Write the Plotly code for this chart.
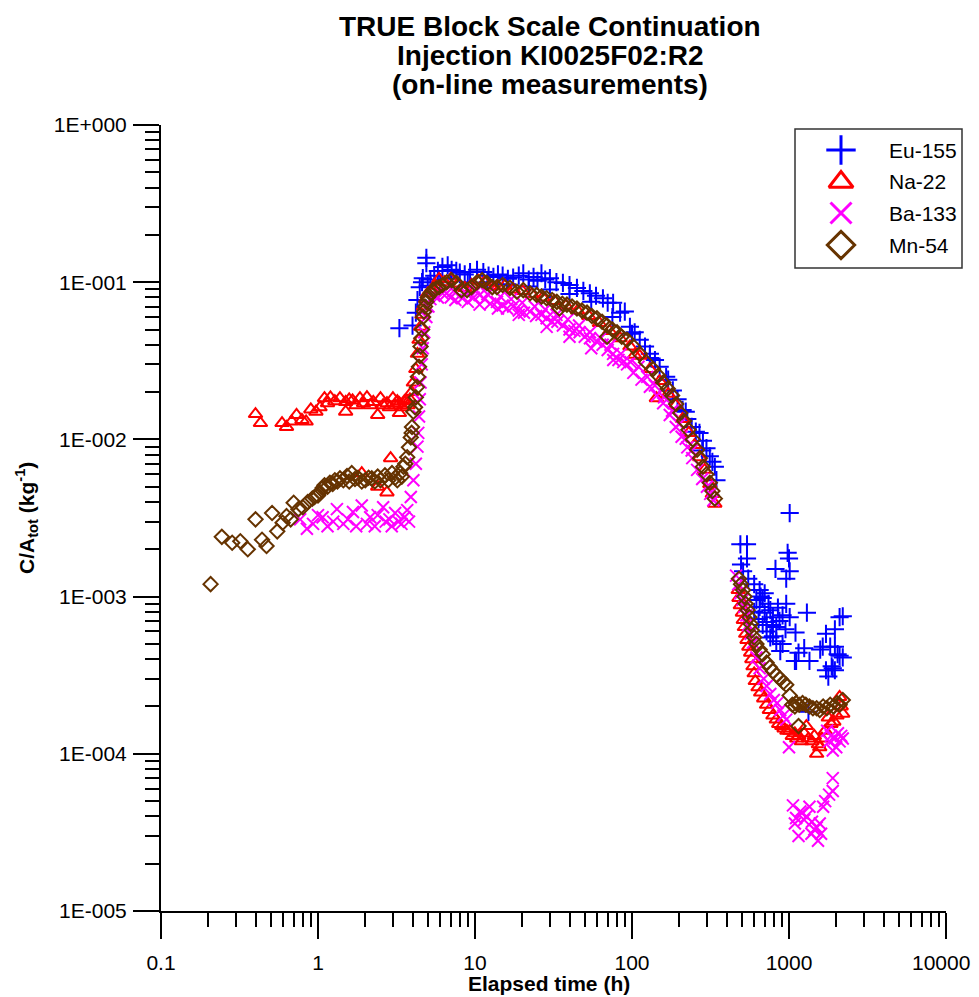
import plotly.graph_objects as go

# Eu-155 (t in h, C/Atot in kg-1)
eu_main = [(3.3, 0.051), (4.0, 0.053), (4.2, 0.064), (4.3, 0.077), (4.45, 0.093), (4.6, 0.1),
           (4.65, 0.106), (4.9, 0.143), (4.9, 0.132), (5.0, 0.095), (5.2, 0.104), (5.5, 0.11),
           (5.8, 0.118), (6.0, 0.1), (6.2, 0.125), (6.7, 0.128), (7.0, 0.105), (7.1, 0.12),
           (7.6, 0.118), (8.0, 0.115), (8.6, 0.112), (9.0, 0.1), (9.3, 0.116), (10.3, 0.12),
           (11.3, 0.116), (12.0, 0.1), (12.2, 0.11), (13.1, 0.108), (14.0, 0.112), (15.0, 0.11),
           (16.0, 0.097), (16.2, 0.105), (17.5, 0.107), (19.0, 0.11), (20.3, 0.114), (22.0, 0.104),
           (22.0, 0.094), (23.6, 0.108), (25.0, 0.102), (26.5, 0.114), (28.0, 0.104), (30.0, 0.106),
           (30.0, 0.09), (33.0, 0.1), (36.3, 0.099), (40.0, 0.096), (40.0, 0.084), (44.6, 0.092),
           (49.0, 0.088), (53.9, 0.085), (55.0, 0.075), (59.0, 0.082), (65.3, 0.079), (70.0, 0.074),
           (75.0, 0.06), (75.8, 0.074), (84.0, 0.064), (90.0, 0.065), (97.0, 0.052), (100.0, 0.047),
           (104.0, 0.048), (112.0, 0.043), (121.0, 0.039), (130.0, 0.035), (130.0, 0.033),
           (140.0, 0.032), (150.0, 0.029), (165.0, 0.025), (170.0, 0.024), (182.0, 0.0205),
           (195.0, 0.018), (210.0, 0.0154), (220.0, 0.015), (225.0, 0.0135), (240.0, 0.012),
           (255.0, 0.0112), (269.0, 0.011), (280.0, 0.0085), (283.0, 0.0098), (298.0, 0.0088),
           (313.0, 0.0078), (325.0, 0.0072), (337.0, 0.0067), (345.0, 0.0055)]
eu_tail = [(490, 2.15e-3), (540, 2.15e-3), (540, 1.75e-3), (495, 1.6e-3), (510, 1.45e-3),
           (550, 1.3e-3), (1010, 3.4e-3), (980, 1.9e-3), (1000, 1.75e-3), (820, 1.5e-3),
           (1010, 1.45e-3), (960, 1.3e-3), (650, 1.1e-3), (660, 1.0e-3), (740, 9.0e-4),
           (960, 9.0e-4), (1300, 7.9e-4), (2100, 7.4e-4), (650, 8.6e-4), (700, 7.9e-4),
           (790, 7.4e-4), (910, 7.6e-4), (1010, 7.4e-4), (720, 6.9e-4), (830, 6.4e-4),
           (950, 6.2e-4), (1100, 5.9e-4), (790, 5.6e-4), (910, 5.0e-4), (880, 4.5e-4),
           (1150, 4.4e-4), (1110, 3.9e-4), (1350, 3.9e-4), (1250, 4.7e-4), (1580, 4.6e-4),
           (1720, 5.8e-4), (1960, 6.2e-4), (1830, 4.8e-4), (1960, 4.8e-4), (2040, 4.3e-4),
           (2100, 4.2e-4), (1640, 4.8e-4), (1870, 3.6e-4), (1720, 3.4e-4), (1780, 3.1e-4),
           (1960, 3.4e-4), (2200, 7.5e-4), (2200, 4.1e-4), (600, 1.2e-3), (620, 9.5e-4),
           (680, 9.8e-4), (700, 1.05e-3), (760, 8.2e-4), (850, 8.5e-4), (600, 8.0e-4),
           (640, 7.2e-4), (680, 6.6e-4), (720, 6.0e-4), (760, 5.5e-4), (830, 5.2e-4),
           (870, 7.0e-4), (780, 6.6e-4), (1090, 3.9e-4), (1900, 3.5e-4), (1330, 1.85e-4)]

# Na-22
na_early = [(0.40, 1.45e-2), (0.43, 1.27e-2), (0.59, 1.27e-2), (0.63, 1.2e-2), (0.68, 1.3e-2),
            (0.73, 1.43e-2), (0.79, 1.33e-2), (0.84, 1.3e-2), (0.90, 1.55e-2), (0.97, 1.5e-2),
            (1.03, 1.6e-2), (1.1, 1.83e-2), (1.15, 1.7e-2), (1.2, 1.85e-2), (1.28, 1.75e-2),
            (1.38, 1.83e-2), (1.5, 1.73e-2), (1.5, 1.5e-2), (1.58, 1.8e-2), (1.66, 1.77e-2),
            (1.75, 1.65e-2), (1.85, 1.83e-2), (1.95, 1.7e-2), (2.05, 1.86e-2), (2.15, 1.65e-2),
            (2.25, 1.73e-2), (2.4, 1.43e-2), (2.5, 1.83e-2), (2.6, 1.65e-2), (2.75, 1.7e-2),
            (2.85, 1.6e-2), (3.0, 1.83e-2), (3.1, 1.65e-2), (3.2, 1.75e-2), (3.3, 1.7e-2),
            (3.3, 1.47e-2), (3.45, 1.6e-2), (3.55, 1.75e-2), (3.67, 1.77e-2), (3.75, 1.65e-2),
            (3.85, 1.8e-2), (1.9, 6.1e-3), (2.4, 5.0e-3), (2.75, 4.6e-3), (2.9, 7.6e-3)]
na_main = [(3.95, 2.0e-2), (4.05, 2.3e-2), (4.2, 2.8e-2), (4.3, 3.5e-2), (4.4, 4.3e-2),
           (4.5, 5.2e-2), (4.6, 6.2e-2), (4.7, 7.0e-2), (4.85, 7.8e-2), (5.0, 8.5e-2),
           (5.3, 9.0e-2), (5.6, 9.5e-2), (5.9, 0.105), (6.4, 0.1), (7.0, 0.105), (7.8, 0.098),
           (8.6, 0.092), (9.5, 0.096), (10.5, 0.102), (11.5, 0.1), (12.5, 0.095), (14.0, 0.094),
           (15.5, 0.095), (17.5, 0.09), (20.0, 0.088), (23.0, 0.084), (27.0, 0.08), (32.0, 0.076),
           (38.0, 0.071), (45.0, 0.066), (53.0, 0.061), (62.0, 0.055), (72.0, 0.049), (84.0, 0.044),
           (97.0, 0.039), (104.0, 0.0345), (112.0, 0.034), (130.0, 0.028), (143.0, 0.0183),
           (150.0, 0.0235), (170.0, 0.0195), (190.0, 0.0165), (210.0, 0.0135), (230.0, 0.011),
           (250.0, 0.0092), (270.0, 0.0077), (290.0, 0.0064), (313.0, 0.0052), (325.0, 0.0045),
           (337.0, 0.0039)]
na_tail = [(475, 1.1e-3), (480, 9.8e-4), (490, 8.8e-4), (505, 7.9e-4), (512, 7.1e-4), (520, 6.4e-4),
           (530, 5.8e-4), (540, 5.3e-4), (555, 4.8e-4), (570, 4.4e-4), (580, 4.0e-4), (590, 3.6e-4),
           (600, 3.25e-4), (610, 2.9e-4), (635, 2.65e-4), (660, 2.45e-4), (690, 2.25e-4),
           (720, 2.05e-4), (750, 1.9e-4), (790, 1.75e-4), (830, 1.65e-4), (860, 1.55e-4),
           (900, 1.5e-4), (930, 1.45e-4), (970, 1.4e-4), (1010, 1.4e-4), (1050, 1.3e-4),
           (1090, 1.35e-4), (1120, 1.25e-4), (1150, 1.3e-4), (1200, 1.2e-4), (1250, 1.35e-4),
           (1290, 1.5e-4), (1330, 1.25e-4), (1400, 1.2e-4), (1450, 1.3e-4), (1500, 1.0e-4),
           (1540, 1.15e-4), (1570, 1.1e-4), (1620, 1.25e-4), (1700, 1.4e-4), (1780, 1.7e-4),
           (1850, 1.55e-4), (1930, 1.6e-4), (2020, 1.75e-4), (2100, 2.3e-4), (2150, 2.0e-4),
           (2200, 1.8e-4)]

# Ba-133
ba_early = [(0.77, 3.1e-3), (0.85, 2.7e-3), (0.93, 2.9e-3), (1.0, 3.3e-3), (1.07, 3.2e-3),
            (1.15, 2.8e-3), (1.25, 3.0e-3), (1.32, 3.6e-3), (1.45, 2.9e-3), (1.55, 3.1e-3),
            (1.67, 3.45e-3), (1.75, 2.8e-3), (1.9, 3.8e-3), (2.05, 2.9e-3), (2.15, 3.2e-3),
            (2.3, 2.8e-3), (2.4, 3.3e-3), (2.6, 3.7e-3), (2.7, 3.0e-3), (2.85, 3.1e-3),
            (2.95, 2.8e-3), (3.1, 3.4e-3), (3.25, 3.0e-3), (3.4, 2.9e-3), (3.55, 3.2e-3),
            (3.7, 3.55e-3), (3.8, 3.0e-3)]
ba_main = [(3.9, 4.3e-3), (4.05, 5.5e-3), (4.2, 7.0e-3), (4.3, 9.0e-3), (4.35, 1.1e-2),
           (4.4, 1.4e-2), (4.45, 1.8e-2), (4.5, 2.3e-2), (4.58, 3.0e-2), (4.65, 3.8e-2),
           (4.75, 4.8e-2), (4.9, 6.0e-2), (5.05, 7.0e-2), (5.2, 7.8e-2), (5.5, 8.2e-2),
           (5.8, 8.0e-2), (6.2, 8.5e-2), (6.6, 0.085), (7.0, 0.08), (7.3, 0.088), (7.5, 0.077),
           (8.3, 0.079), (8.7, 0.086), (9.0, 0.075), (9.8, 0.08), (10.2, 0.088), (10.7, 0.083),
           (10.7, 0.072), (11.5, 0.078), (12.0, 0.084), (12.5, 0.073), (13.8, 0.075), (14.0, 0.068),
           (14.5, 0.081), (15.0, 0.071), (16.0, 0.068), (17.0, 0.078), (17.5, 0.07), (19.0, 0.066),
           (19.0, 0.062), (20.0, 0.074), (20.5, 0.064), (22.4, 0.065), (24.0, 0.07), (24.5, 0.061),
           (26.5, 0.062), (28.0, 0.067), (28.6, 0.059), (28.6, 0.052), (31.0, 0.056), (33.0, 0.062),
           (33.5, 0.056), (36.3, 0.053), (39.0, 0.058), (40.0, 0.050), (40.0, 0.045), (43.0, 0.049),
           (46.0, 0.053), (46.4, 0.048), (50.0, 0.045), (54.0, 0.048), (54.0, 0.044), (55.0, 0.038),
           (59.5, 0.042), (63.0, 0.044), (65.0, 0.040), (70.0, 0.037), (73.0, 0.04), (75.8, 0.035),
           (76.0, 0.032), (82.0, 0.032), (85.0, 0.035), (88.0, 0.031), (93.0, 0.030), (98.0, 0.031),
           (102.0, 0.0265), (110.0, 0.029), (115.0, 0.024), (125.0, 0.025), (130.0, 0.0216),
           (140.0, 0.022), (144.0, 0.019), (158.0, 0.017), (160.0, 0.0185), (174.0, 0.0143),
           (180.0, 0.0152), (190.0, 0.012), (200.0, 0.0125), (207.0, 0.0104), (220.0, 0.0101),
           (225.0, 0.0089), (240.0, 0.0085), (242.0, 0.0076), (260.0, 0.0064), (280.0, 0.0056),
           (300.0, 0.0050), (315.0, 0.0045), (330.0, 0.0041)]
ba_tail = [(460, 1.36e-3), (475, 1.2e-3), (490, 1.05e-3), (505, 9.5e-4), (520, 8.6e-4),
           (535, 7.6e-4), (550, 6.6e-4), (570, 5.8e-4), (590, 5.1e-4), (620, 4.1e-4), (650, 3.5e-4),
           (690, 3.0e-4), (720, 2.7e-4), (760, 2.4e-4), (800, 2.2e-4), (840, 2.1e-4), (880, 1.9e-4),
           (920, 1.75e-4), (960, 1.65e-4), (1000, 1.1e-4), (1750, 1.4e-4), (1800, 1.2e-4),
           (1850, 1.3e-4), (1900, 1.05e-4), (1950, 1.25e-4), (2000, 1.1e-4), (2050, 1.35e-4),
           (2100, 1.2e-4), (2150, 1.3e-4), (2200, 1.25e-4)]
ba_low = [(1060, 4.7e-5), (1090, 3.6e-5), (1110, 3.9e-5), (1150, 3.0e-5), (1180, 4.3e-5),
          (1210, 4.2e-5), (1250, 3.8e-5), (1290, 4.0e-5), (1350, 4.6e-5), (1390, 3.1e-5),
          (1400, 3.7e-5), (1450, 3.3e-5), (1500, 3.4e-5), (1530, 2.8e-5), (1570, 3.6e-5),
          (1600, 3.1e-5), (1650, 4.6e-5), (1700, 5.0e-5), (1800, 5.5e-5), (1900, 5.8e-5),
          (1900, 7.0e-5)]

# Mn-54
mn_early = [(0.207, 1.2e-3), (0.244, 2.4e-3), (0.284, 2.2e-3), (0.32, 2.25e-3), (0.357, 2.0e-3),
            (0.40, 3.1e-3), (0.44, 2.3e-3), (0.47, 2.1e-3), (0.51, 3.4e-3), (0.55, 2.6e-3),
            (0.595, 2.95e-3), (0.63, 3.25e-3), (0.67, 3.1e-3), (0.70, 3.95e-3), (0.75, 3.6e-3),
            (0.80, 3.7e-3), (0.86, 4.0e-3), (0.92, 4.2e-3), (0.95, 4.3e-3), (1.0, 4.4e-3),
            (1.03, 4.6e-3), (1.07, 4.9e-3), (1.1, 5.1e-3), (1.15, 5.0e-3), (1.19, 5.3e-3),
            (1.24, 5.2e-3), (1.28, 5.5e-3), (1.33, 5.4e-3), (1.38, 5.65e-3), (1.45, 5.5e-3),
            (1.53, 5.85e-3), (1.58, 5.4e-3), (1.64, 6.1e-3), (1.72, 5.6e-3), (1.8, 5.7e-3),
            (1.9, 5.4e-3), (2.0, 5.5e-3), (2.1, 5.7e-3), (2.2, 5.65e-3), (2.3, 5.4e-3),
            (2.4, 5.8e-3), (2.5, 5.5e-3), (2.67, 5.9e-3), (2.8, 5.5e-3), (2.96, 6.1e-3),
            (3.1, 5.7e-3), (3.2, 5.5e-3), (3.34, 6.1e-3), (3.42, 5.8e-3), (3.5, 6.7e-3),
            (3.6, 7.0e-3), (3.7, 7.7e-3), (3.8, 8.9e-3), (3.9, 1.03e-2), (3.95, 1.1e-2)]
mn_main = [(3.97, 1.2e-2), (4.05, 1.5e-2), (4.15, 1.6e-2), (4.2, 1.85e-2), (4.27, 2.15e-2),
           (4.33, 2.5e-2), (4.4, 2.9e-2), (4.45, 3.4e-2), (4.5, 3.9e-2), (4.55, 4.4e-2),
           (4.6, 5.0e-2), (4.67, 6.0e-2), (4.73, 6.5e-2), (4.8, 7.0e-2), (4.9, 7.5e-2),
           (5.0, 8.0e-2), (5.2, 8.5e-2), (5.4, 8.9e-2), (5.65, 9.1e-2), (5.9, 9.3e-2),
           (6.2, 9.6e-2), (6.6, 0.1), (7.1, 0.103), (7.6, 0.099), (8.2, 0.089), (8.9, 0.089),
           (9.5, 0.093), (10.3, 0.1), (11.1, 0.103), (11.9, 0.099), (12.9, 0.093), (13.8, 0.093),
           (15.0, 0.096), (16.7, 0.092), (18.5, 0.087), (20.3, 0.089), (22.4, 0.085), (24.7, 0.083),
           (26.5, 0.081), (28.6, 0.079), (31.0, 0.077), (33.2, 0.075), (34.5, 0.068), (36.0, 0.073),
           (38.5, 0.072), (41.5, 0.070), (44.6, 0.068), (48.0, 0.066), (51.7, 0.064), (55.5, 0.061),
           (59.8, 0.059), (64.5, 0.056), (69.3, 0.053), (69.4, 0.045), (75.0, 0.050), (80.3, 0.048),
           (86.0, 0.045), (93.0, 0.043), (102.0, 0.039), (112.0, 0.035), (123.0, 0.031),
           (136.0, 0.028), (147.0, 0.0255), (158.0, 0.023), (169.0, 0.021), (180.0, 0.019),
           (191.0, 0.0168), (203.0, 0.0147), (215.0, 0.0131), (229.0, 0.0115), (244.0, 0.0100),
           (260.0, 0.0086), (271.0, 0.0076), (283.0, 0.0067), (298.0, 0.0060), (313.0, 0.0053),
           (325.0, 0.0047), (337.0, 0.0042)]
mn_tail = [(480, 1.3e-3), (495, 1.2e-3), (510, 1.1e-3), (520, 1.0e-3), (530, 9.0e-4), (545, 8.2e-4),
           (560, 7.4e-4), (570, 6.7e-4), (580, 6.1e-4), (600, 5.5e-4), (620, 5.0e-4), (650, 4.6e-4),
           (680, 4.3e-4), (720, 3.8e-4), (755, 3.55e-4), (790, 3.35e-4), (835, 3.15e-4),
           (880, 3.0e-4), (920, 2.85e-4), (960, 2.75e-4), (1010, 2.35e-4), (1150, 1.5e-4),
           (1050, 2.05e-4), (1090, 2.0e-4), (1110, 2.1e-4), (1160, 2.05e-4), (1220, 2.1e-4),
           (1280, 2.05e-4), (1350, 2.0e-4), (1420, 1.95e-4), (1500, 1.95e-4), (1570, 1.9e-4),
           (1650, 2.0e-4), (1740, 1.95e-4), (1830, 2.05e-4), (1920, 2.0e-4), (2020, 2.1e-4),
           (2100, 2.05e-4), (2200, 2.2e-4)]

names = ["Eu-155", "Na-22", "Ba-133", "Mn-54"]
colors = ["#0000FF", "#FF0000", "#FF00FF", "#663300"]
symbols = ["cross-thin", "triangle-up-open", "x-thin", "diamond-open"]
data = [eu_main + eu_tail,
        na_early + na_main + na_tail,
        ba_early + ba_main + ba_tail + ba_low,
        mn_early + mn_main + mn_tail]
sizes = [13, 12, 12, 11]

FONT = "Arial, Liberation Sans, sans-serif"

# figure size / plot box (the page adds an 8px body margin)
W, H = 963, 989
L, T, PW, PH = 153, 117, 785, 786


def px(xp):
    return (xp - 161) / PW


def py(yp):
    return (911 - yp) / PH


fig = go.Figure()
for name, pts, sym, col, size in zip(names, data, symbols, colors, sizes):
    fig.add_trace(go.Scatter(
        x=[p[0] for p in pts], y=[p[1] for p in pts],
        mode="markers", name=name, showlegend=False,
        marker=dict(symbol=sym, size=size, color=col, line=dict(color=col, width=2)),
    ))

# hand-made legend (larger symbols than plotly's legend allows)
leg_y = [150, 182, 213, 245]
for name, sym, col, yy in zip(names, symbols, colors, leg_y):
    fig.add_trace(go.Scatter(
        x=[px(841)], y=[py(yy)], xaxis="x2", yaxis="y2", mode="markers",
        showlegend=False, hoverinfo="skip", cliponaxis=False,
        marker=dict(symbol=sym, size=21, color=col, line=dict(color=col, width=3)),
    ))
    fig.add_annotation(x=px(887), y=py(yy), xref="paper", yref="paper", text=name,
                       showarrow=False, xanchor="left", yanchor="middle",
                       font=dict(family=FONT, size=21, color="black"))
fig.add_shape(type="rect", xref="paper", yref="paper", x0=px(795), x1=px(962),
              y0=py(268), y1=py(129), line=dict(color="#333333", width=1.5))

x_minor = [m * 10 ** e for e in range(-1, 4) for m in range(2, 10)]
y_minor = [m * 10 ** e for e in range(-5, 0) for m in range(2, 10)]

axis_common = dict(
    type="log", showgrid=False, zeroline=False, showline=True, linecolor="black",
    linewidth=2, ticks="outside", ticklen=26, tickwidth=2, tickcolor="black",
    tickfont=dict(family=FONT, size=21, color="black"),
)

fig.update_xaxes(
    **axis_common,
    range=[-1, 4],
    tickvals=[0.1, 1, 10, 100, 1000, 10000],
    ticktext=["0.1", "1", "10", "100", "1000", ""],
    minor=dict(tickvals=x_minor, ticks="outside", ticklen=14, tickwidth=1.5, tickcolor="black"),
    ticklabelstandoff=6,
)
# last x label drawn separately so it stays inside the page
fig.add_annotation(x=px(941), y=py(962), xref="paper", yref="paper", text="10000",
                   showarrow=False, xanchor="center", yanchor="middle",
                   font=dict(family=FONT, size=21, color="black"))
fig.update_yaxes(
    **axis_common,
    range=[-5, 0],
    tickvals=[1e-5, 1e-4, 1e-3, 1e-2, 1e-1, 1],
    ticktext=["1E-005", "1E-004", "1E-003", "1E-002", "1E-001", "1E+000"],
    minor=dict(tickvals=y_minor, ticks="outside", ticklen=14, tickwidth=1.5, tickcolor="black"),
    ticklabelstandoff=2,
)

# titles
for txt, yy in zip(["TRUE Block Scale Continuation", "Injection KI0025F02:R2", "(on-line measurements)"],
                   [26, 55, 84]):
    fig.add_annotation(x=px(550), y=py(yy), xref="paper", yref="paper", text="<b>" + txt + "</b>",
                       showarrow=False, xanchor="center", yanchor="middle",
                       font=dict(family=FONT, size=28, color="black"))
fig.add_annotation(x=px(549), y=py(984), xref="paper", yref="paper", text="<b>Elapsed time (h)</b>",
                   showarrow=False, xanchor="center", yanchor="middle",
                   font=dict(family=FONT, size=21, color="black"))
fig.add_annotation(x=px(26), y=py(518), xref="paper", yref="paper",
                   text="<b>C/A<sub>tot</sub> (kg<sup>-1</sup>)</b>", textangle=-90,
                   showarrow=False, xanchor="center", yanchor="middle",
                   font=dict(family=FONT, size=21, color="black"))

fig.update_layout(
    width=W, height=H,
    margin=dict(l=L, r=W - L - PW, t=T, b=H - T - PH),
    plot_bgcolor="white", paper_bgcolor="white",
    showlegend=False,
    xaxis2=dict(domain=[0, 1], range=[0, 1], overlaying="x", visible=False, fixedrange=True),
    yaxis2=dict(domain=[0, 1], range=[0, 1], overlaying="y", visible=False, fixedrange=True),
)

fig.write_html("out.html")
